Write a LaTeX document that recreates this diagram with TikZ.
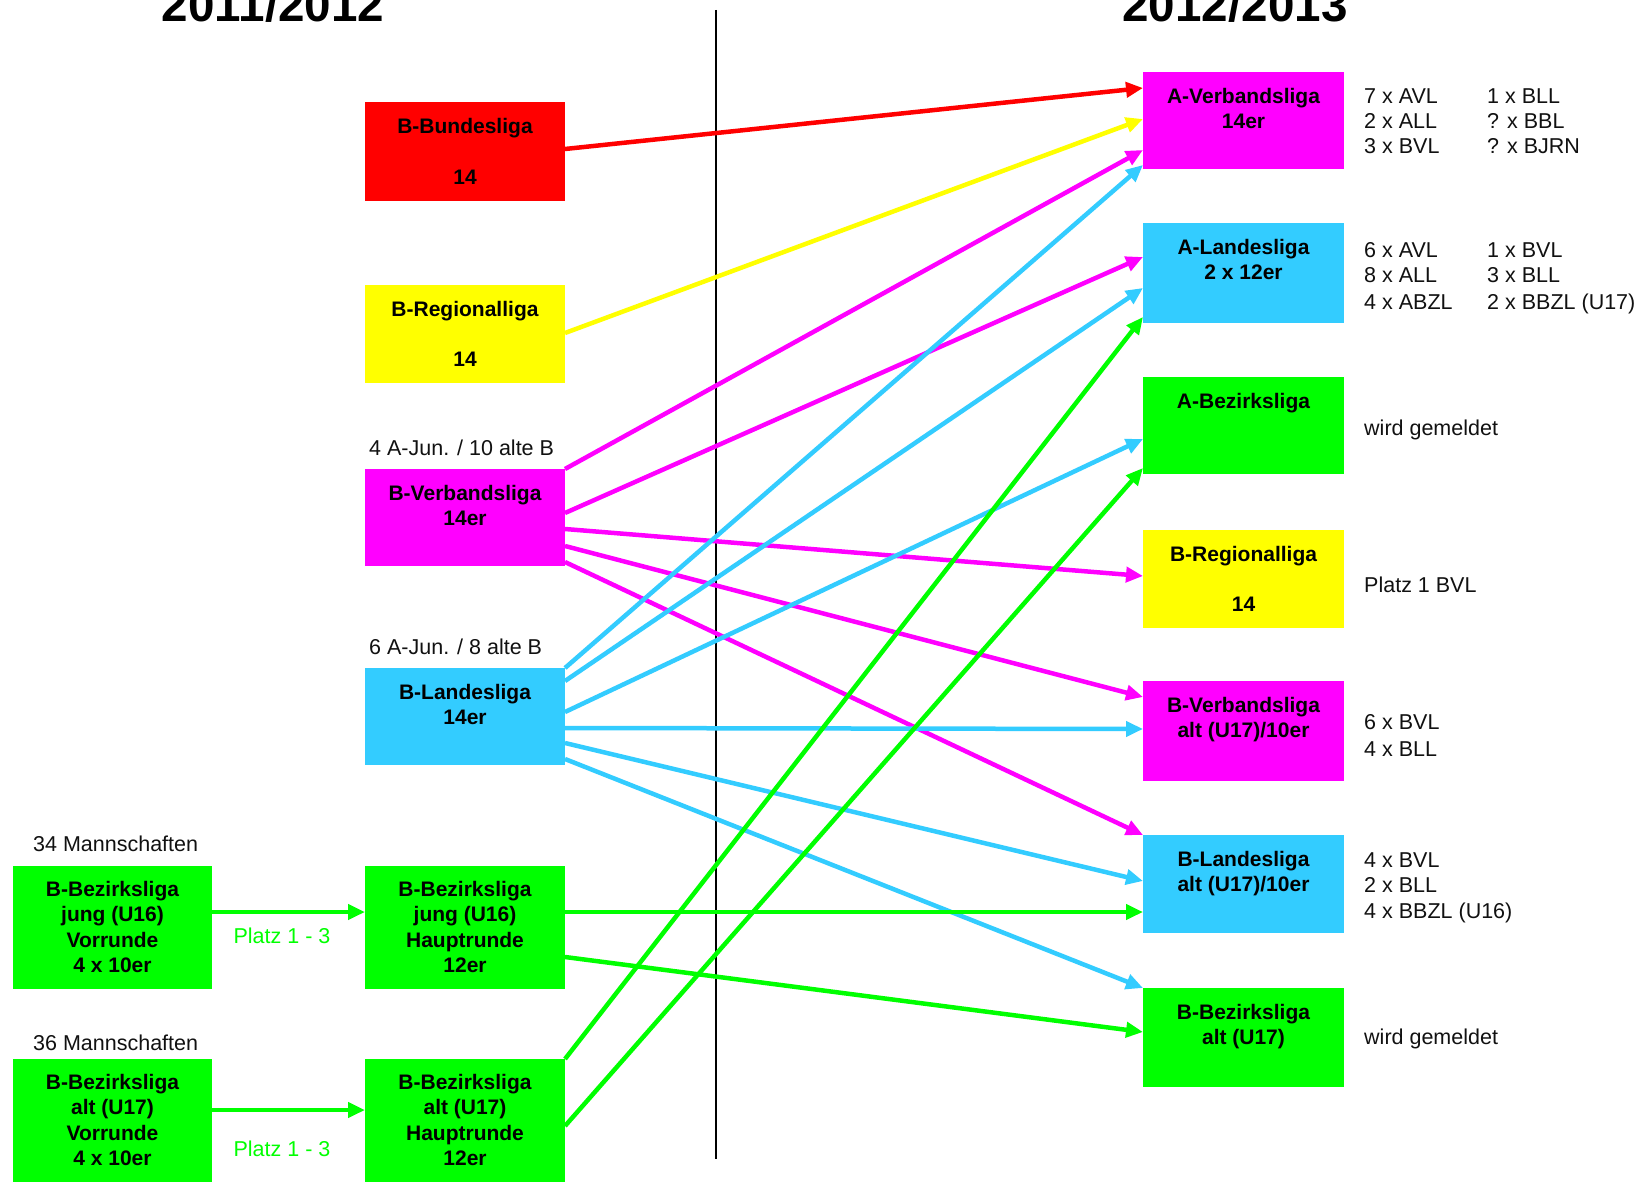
\documentclass[tikz,border=0pt]{standalone}
\usepackage{fontspec}
\setmainfont{Liberation Sans}
\usetikzlibrary{arrows.meta,calc}
\definecolor{cR}{HTML}{FF0000}
\definecolor{cY}{HTML}{FFFF00}
\definecolor{cM}{HTML}{FF00FF}
\definecolor{cC}{HTML}{33CCFF}
\definecolor{cG}{HTML}{00FF00}
\definecolor{txt}{HTML}{111111}
\begin{document}
\begin{tikzpicture}[x=1pt,y=-1pt,
  box/.style={fill=#1, draw=none, inner sep=0pt, outer sep=0pt, anchor=north west},
  btxt/.style={anchor=north, align=center, inner sep=0pt, text=black,
    font=\bfseries\fontsize{21}{25.5}\selectfont},
  side/.style={anchor=base west, inner sep=0pt, text=txt, font=\fontsize{21.5}{25}\selectfont},
  platz/.style={anchor=base, inner sep=0pt, text=cG, font=\fontsize{21.5}{25}\selectfont},
  title/.style={anchor=base, inner sep=0pt, text=black, font=\bfseries\fontsize{47.6}{50}\selectfont},
  arr/.style={draw=#1, line width=4.5pt, -{Triangle[length=17pt,width=15pt]}}]
\clip (0,0) rectangle (1641,1182);
\fill[white] (0,0) rectangle (1641,1182);

% titles
\node[title] (t1) at (273,22) {2011/2012};
\node[title] (t2) at (1235,22) {2012/2013};

% separator
\coordinate (vt) at (716,10);
\coordinate (vb) at (716,1159);
\draw[line width=1.5pt, black] (vt) -- (vb);

% left boxes
\node[box=cR, minimum width=200pt, minimum height=99pt] (bbl) at (365,102) {};
\node[box=cY, minimum width=200pt, minimum height=98pt] (brl) at (365,285) {};
\node[box=cM, minimum width=200pt, minimum height=97pt] (bvl) at (365,469) {};
\node[box=cC, minimum width=200pt, minimum height=97pt] (bll) at (365,668) {};
\node[box=cG, minimum width=200pt, minimum height=123pt] (bbjh) at (365,866) {};
\node[box=cG, minimum width=200pt, minimum height=124pt] (bbah) at (365,1059) {};
\node[box=cG, minimum width=199pt, minimum height=123pt] (bbjv) at (13,866) {};
\node[box=cG, minimum width=199pt, minimum height=124pt] (bbav) at (13,1059) {};

% right boxes
\node[box=cM, minimum width=201pt, minimum height=97pt] (avl) at (1143,72) {};
\node[box=cC, minimum width=201pt, minimum height=100pt] (all) at (1143,223) {};
\node[box=cG, minimum width=201pt, minimum height=97pt] (abl) at (1143,377) {};
\node[box=cY, minimum width=201pt, minimum height=98pt] (brlz) at (1143,530) {};
\node[box=cM, minimum width=201pt, minimum height=100pt] (bvlz) at (1143,681) {};
\node[box=cC, minimum width=201pt, minimum height=98pt] (bllz) at (1143,835) {};
\node[box=cG, minimum width=201pt, minimum height=99pt] (bblz) at (1143,988) {};

% box texts
\node[btxt] (bblT) at ($(bbl.north)+(0,16)$) {B-Bundesliga\\[26pt]14};
\node[btxt] (brlT) at ($(brl.north)+(0,16)$) {B-Regionalliga\\[25pt]14};
\node[btxt] (bvlT) at ($(bvl.north)+(0,16)$) {B-Verbandsliga\\14er};
\node[btxt] (bllT) at ($(bll.north)+(0,16)$) {B-Landesliga\\14er};
\node[btxt] (bbjhT) at ($(bbjh.north)+(0,15)$) {B-Bezirksliga\\jung (U16)\\Hauptrunde\\12er};
\node[btxt] (bbahT) at ($(bbah.north)+(0,15)$) {B-Bezirksliga\\alt (U17)\\Hauptrunde\\12er};
\node[btxt] (bbjvT) at ($(bbjv.north)+(0,15)$) {B-Bezirksliga\\jung (U16)\\Vorrunde\\4 x 10er};
\node[btxt] (bbavT) at ($(bbav.north)+(0,15)$) {B-Bezirksliga\\alt (U17)\\Vorrunde\\4 x 10er};
\node[btxt] (avlT) at ($(avl.north)+(0,16)$) {A-Verbandsliga\\14er};
\node[btxt] (allT) at ($(all.north)+(0,16)$) {A-Landesliga\\2 x 12er};
\node[btxt] (ablT) at ($(abl.north)+(0,16)$) {A-Bezirksliga};
\node[btxt] (brlzT) at ($(brlz.north)+(0,16)$) {B-Regionalliga\\[25pt]14};
\node[btxt] (bvlzT) at ($(bvlz.north)+(0,16)$) {B-Verbandsliga\\alt (U17)/10er};
\node[btxt] (bllzT) at ($(bllz.north)+(0,16)$) {B-Landesliga\\alt (U17)/10er};
\node[btxt] (bblzT) at ($(bblz.north)+(0,16)$) {B-Bezirksliga\\alt (U17)};

% labels above left boxes
\node[side] (l1) at (369,455) {4 A-Jun. / 10 alte B};
\node[side] (l2) at (369,654) {6 A-Jun. / 8 alte B};
\node[side] (l3) at (33,851) {34 Mannschaften};
\node[side] (l4) at (33,1050) {36 Mannschaften};
\node[platz] (p1) at (282,943) {Platz 1 - 3};
\node[platz] (p2) at (282,1156) {Platz 1 - 3};

% right side notes
\node[side] (s1) at (1364,104) {7 x AVL};
\node[side] (s2) at (1364,129) {2 x ALL};
\node[side] (s3) at (1364,154) {3 x BVL};
\node[side] (s4) at (1487,104) {1 x BLL};
\node[side] (s5) at (1487,129) {? x BBL};
\node[side] (s6) at (1487,154) {? x BJRN};
\node[side] (s7) at (1364,258) {6 x AVL};
\node[side] (s8) at (1364,283) {8 x ALL};
\node[side] (s9) at (1364,309) {4 x ABZL};
\node[side] (s10) at (1487,258) {1 x BVL};
\node[side] (s11) at (1487,283) {3 x BLL};
\node[side] (s12) at (1487,309) {2 x BBZL (U17)};
\node[side] (s13) at (1364,435) {wird gemeldet};
\node[side] (s14) at (1364,592) {Platz 1 BVL};
\node[side] (s15) at (1364,729) {6 x BVL};
\node[side] (s16) at (1364,756) {4 x BLL};
\node[side] (s17) at (1364,867) {4 x BVL};
\node[side] (s18) at (1364,892) {2 x BLL};
\node[side] (s19) at (1364,918) {4 x BBZL (U16)};
\node[side] (s20) at (1364,1044) {wird gemeldet};

% connectors
\draw[arr=cR] ($(bbl.north east)+(0,47)$) -- ($(avl.north west)+(0,16)$);
\draw[arr=cY] ($(brl.north east)+(0,48)$) -- ($(avl.north west)+(0,47)$);

\draw[arr=cM] (bvl.north east) -- ($(avl.north west)+(0,78)$);
\draw[arr=cM] ($(bvl.north east)+(0,44)$) -- ($(all.north west)+(0,34)$);
\draw[arr=cM] ($(bvl.north east)+(0,60)$) -- ($(brlz.north west)+(0,46)$);
\draw[arr=cM] ($(bvl.north east)+(0,77)$) -- ($(bvlz.north west)+(0,16)$);
\draw[arr=cM] ($(bvl.north east)+(0,93)$) -- (bllz.north west);

\draw[arr=cC] (bll.north east) -- ($(avl.north west)+(0,93)$);
\draw[arr=cC] ($(bll.north east)+(0,13)$) -- ($(all.north west)+(0,65)$);
\draw[arr=cC] ($(bll.north east)+(0,44)$) -- ($(abl.north west)+(0,62)$);
\draw[arr=cC] ($(bll.north east)+(0,60)$) -- ($(bvlz.north west)+(0,48)$);
\draw[arr=cC] ($(bll.north east)+(0,75)$) -- ($(bllz.north west)+(0,46)$);
\draw[arr=cC] ($(bll.north east)+(0,91)$) -- (bblz.north west);

\draw[arr=cG] ($(bbjh.north east)+(0,46)$) -- ($(bllz.north west)+(0,77)$);
\draw[arr=cG] ($(bbjh.north east)+(0,91)$) -- ($(bblz.north west)+(0,44)$);
\draw[arr=cG] (bbah.north east) -- ($(all.north west)+(0,94)$);
\draw[arr=cG] ($(bbah.north east)+(0,67)$) -- ($(abl.north west)+(0,91)$);

\draw[arr=cG] ($(bbjv.north east)+(0,46)$) -- ($(bbjh.north west)+(0,46)$);
\draw[arr=cG] ($(bbav.north east)+(0,51)$) -- ($(bbah.north west)+(0,51)$);
\end{tikzpicture}
\end{document}
